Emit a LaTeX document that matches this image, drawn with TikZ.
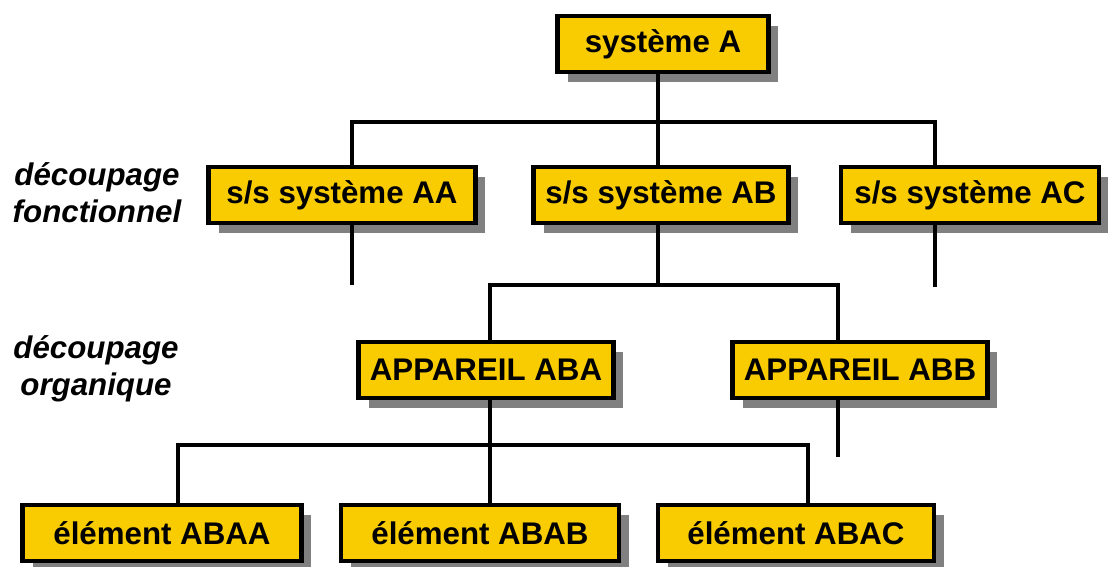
\documentclass[tikz,border=0pt]{standalone}
\usepackage{fontspec}
\setmainfont{Liberation Sans}
\usepackage{tikz}
\usetikzlibrary{shapes,positioning,shadows}
\definecolor{boxyellow}{RGB}{248,204,0}

\begin{document}
\begin{tikzpicture}[x=0.02cm, y=-0.02cm]
% Define styles
\tikzstyle{unit} = [rectangle, draw=black, line width=2.4pt, fill=boxyellow, minimum height=1.12cm, text centered, font=\fontsize{17.8}{20}\selectfont\bfseries, drop shadow={shadow xshift=0.2cm, shadow yshift=-0.2cm, fill=black!50, opacity=1}]
\tikzstyle{level} = [align=center, font=\fontsize{17.8}{21}\selectfont\bfseries\itshape]
\tikzstyle{link} = [line width=2.6pt, line cap=rect]

\useasboundingbox (0,0) rectangle (1108,567);

% Create nodes
\node (sysA) [unit, minimum width=4.22cm] at (663,44) {système A};

% Functional split
\node (ssAA) [unit, minimum width=5.34cm] at (342,195) {s/s système AA};
\node (ssAB) [unit, minimum width=5.1cm] at (661,195) {s/s système AB};
\node (ssAC) [unit, minimum width=5.16cm] at (970,195) {s/s système AC};

% Organic split
\node (appABA) [unit, minimum width=5.1cm] at (486,370) {APPAREIL ABA};
\node (appABB) [unit, minimum width=5.1cm] at (860,370) {APPAREIL ABB};

% Elements
\node (elABAA) [unit, minimum width=5.58cm] at (162,533) {élément ABAA};
\node (elABAB) [unit, minimum width=5.56cm] at (480,533) {élément ABAB};
\node (elABAC) [unit, minimum width=5.52cm] at (796,533) {élément ABAC};

% Side labels
\node (labFct) [level] at (97,193) {découpage\\fonctionnel};
\node (labOrg) [level] at (96,369) {découpage\\organique};

% Junction points
\coordinate (tapA) at (658,122);
\coordinate (barAl) at (352,122);
\coordinate (barAr) at (935,122);
\coordinate (stubAA) at (352,283);
\coordinate (stubAC) at (935,285);
\coordinate (tapAB) at (658,285);
\coordinate (barABl) at (490,285);
\coordinate (barABr) at (838,285);
\coordinate (stubABB) at (838,455);
\coordinate (tapABA) at (490,445);
\coordinate (barABAl) at (178,445);
\coordinate (barABAr) at (808,445);

% Draw connectors
\draw [link] (sysA.south -| tapA) -- (tapA);
\draw [link] (ssAA.north -| barAl) |- (barAr) -- (ssAC.north -| barAr);
\draw [link] (ssAB.north -| tapA) -- (tapA);
\draw [link] (ssAA.south -| stubAA) -- (stubAA);
\draw [link] (ssAC.south -| stubAC) -- (stubAC);
\draw [link] (ssAB.south -| tapAB) -- (tapAB);
\draw [link] (appABA.north -| barABl) |- (barABr) -- (appABB.north -| barABr);
\draw [link] (appABB.south -| stubABB) -- (stubABB);
\draw [link] (appABA.south -| tapABA) -- (tapABA);
\draw [link] (elABAA.north -| barABAl) |- (barABAr) -- (elABAC.north -| barABAr);
\draw [link] (elABAB.north -| tapABA) -- (tapABA);
\end{tikzpicture}
\end{document}
